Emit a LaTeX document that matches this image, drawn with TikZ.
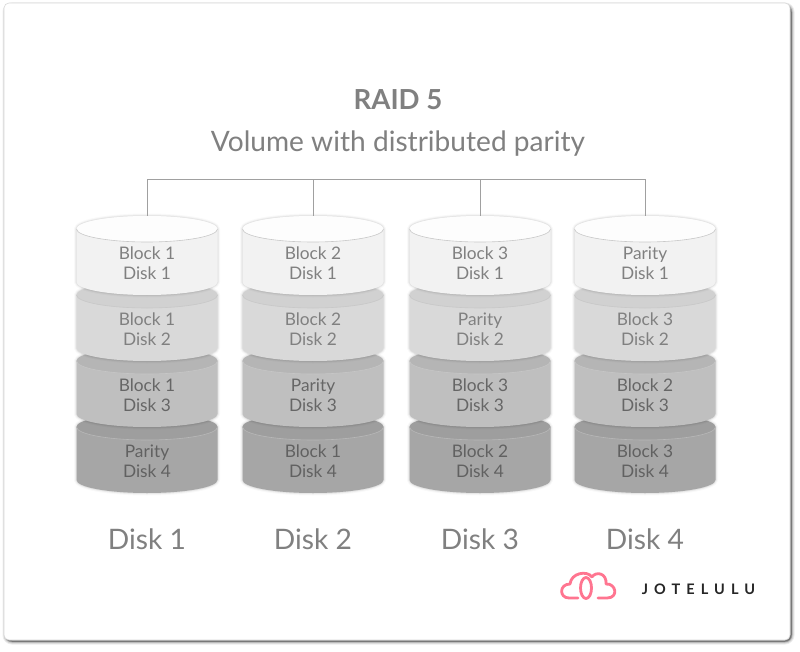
\documentclass[tikz,border=0pt]{standalone}
\usepackage{fontspec}
\setmainfont{Lato}[Numbers=Lining]
\definecolor{gray7}{HTML}{808080}
\definecolor{gray8}{HTML}{A0A0A0}
\definecolor{logopink}{HTML}{FF7590}
\definecolor{sideA}{HTML}{F2F2F2}
\definecolor{faceA}{HTML}{FDFDFD}
\definecolor{rimA}{HTML}{C8C8C8}
\definecolor{sideB}{HTML}{D9D9D9}
\definecolor{faceB}{HTML}{D1D1D1}
\definecolor{rimB}{HTML}{C8C8C8}
\definecolor{sideC}{HTML}{BFBFBF}
\definecolor{faceC}{HTML}{B5B5B5}
\definecolor{rimC}{HTML}{C6C6C6}
\definecolor{sideD}{HTML}{A6A6A6}
\definecolor{faceD}{HTML}{9E9E9E}
\definecolor{rimD}{HTML}{B8B8B8}
\begin{document}
\begin{tikzpicture}[x=1pt,y=-1pt,
  label text/.style={text=#1,font=\fontsize{17.3}{20}\selectfont,align=center,inner sep=0pt},
  caption text/.style={text=gray7,font=\fontsize{28.2}{32}\selectfont,inner sep=0pt},
  bus line/.style={draw=gray8,line width=1pt},
  logo line/.style={draw=logopink,line width=2.8pt,line cap=round,line join=round}]
\useasboundingbox (0,0) rectangle (800,652);
\fill[white] (0,0) rectangle (800,652);

% Card with a soft shadow along its lower right edge
\foreach \w/\o in {7/0.07,5/0.1,3/0.18,1.5/0.3}
  \draw[black,opacity=\o,line width=\w pt,rounded corners=6pt] (6,6) rectangle (791,641);
\fill[white,rounded corners=5pt] (4,3) rectangle (790,640);
\draw[gray!30,line width=0.6pt,rounded corners=5pt] (4,3) rectangle (790,640);

% One drum of a stack: #1 centre x, #2 top-face centre y, #3 side colour, #4 face colour, #5 rim colour
\newcommand{\drum}[5]{%
  \foreach \w/\o in {5/0.025,3/0.04,1.5/0.05}
    \draw[black,opacity=\o,line width=\w pt]
      (#1-70.5,#2) -- (#1-70.5,#2+53) arc[start angle=180,end angle=0,x radius=70.5,y radius=13]
      -- (#1+70.5,#2) arc[start angle=0,end angle=-180,x radius=70.5,y radius=13] -- cycle;
  \fill[#3] (#1-70.5,#2) -- (#1-70.5,#2+53) arc[start angle=180,end angle=0,x radius=70.5,y radius=13]
      -- (#1+70.5,#2) arc[start angle=0,end angle=-180,x radius=70.5,y radius=13] -- cycle;
  \fill[#4] (#1,#2) ellipse[x radius=70.5,y radius=13];
  \draw[#5,line width=0.6pt] (#1-70.5,#2) arc[start angle=180,end angle=0,x radius=70.5,y radius=13];
}

% Four stacks, drawn bottom to top so that each drum overlaps the next
\foreach \cx in {147,313,480,645} {
  \drum{\cx}{427}{sideD}{faceD}{rimD}
  \drum{\cx}{361}{sideC}{faceC}{rimC}
  \drum{\cx}{295}{sideB}{faceB}{rimB}
  \drum{\cx}{229}{sideA}{faceA}{rimA}
}

% Cylinder labels
\foreach \cx/\n/\a/\b/\c/\d in {147/1/Block 1/Block 1/Block 1/Parity,
                                313/2/Block 2/Block 2/Parity/Block 1,
                                480/3/Block 3/Parity/Block 3/Block 2,
                                645/4/Parity/Block 3/Block 2/Block 3} {
  \node[label text=gray7] (a\n) at (\cx,263.5) {\a\\Disk 1};
  \node[label text=gray7] (b\n) at (\cx,329.5) {\b\\Disk 2};
  \node[label text=black!60] (c\n) at (\cx,395.5) {\c\\Disk 3};
  \node[label text=black!62] (d\n) at (\cx,461.5) {\d\\Disk 4};
  \node[caption text] (cap\n) at (\cx,539) {Disk \n};
  \coordinate (top\n) at (\cx,216);
}

% Title
\node[text=gray7,font=\fontsize{27.6}{30}\selectfont\bfseries,inner sep=0pt] (title) at (398,99.5) {RAID 5};
\node[text=gray7,font=\fontsize{28.1}{32}\selectfont,inner sep=0pt] (subtitle) at (398,144) {Volume with distributed parity};

% Bus feeding the four stacks
\coordinate (busL) at (147,179.5);
\coordinate (busR) at (645,179.5);
\draw[bus line] (top1) |- (busR) -- (top4);
\draw[bus line] (top2) -- (top2 |- busL);
\draw[bus line] (top3) -- (top3 |- busL);

% Logo
\draw[logo line] (578,598) -- (569,598) .. controls (559,598) and (559,584) .. (570,584)
  .. controls (571,573) and (587,570) .. (592,577)
  .. controls (596,571) and (607,573) .. (606,584)
  .. controls (616,583) and (619,598) .. (607,598) -- (598,598);
\draw[logo line] (586,588) ellipse[x radius=5.5,y radius=10.5];
\node[text=black!85,font=\fontsize{14.5}{16}\selectfont\bfseries,inner sep=0pt] (brand) at (698.5,589)
  {\addfontfeature{LetterSpace=42}JOTELULU};
\end{tikzpicture}
\end{document}
